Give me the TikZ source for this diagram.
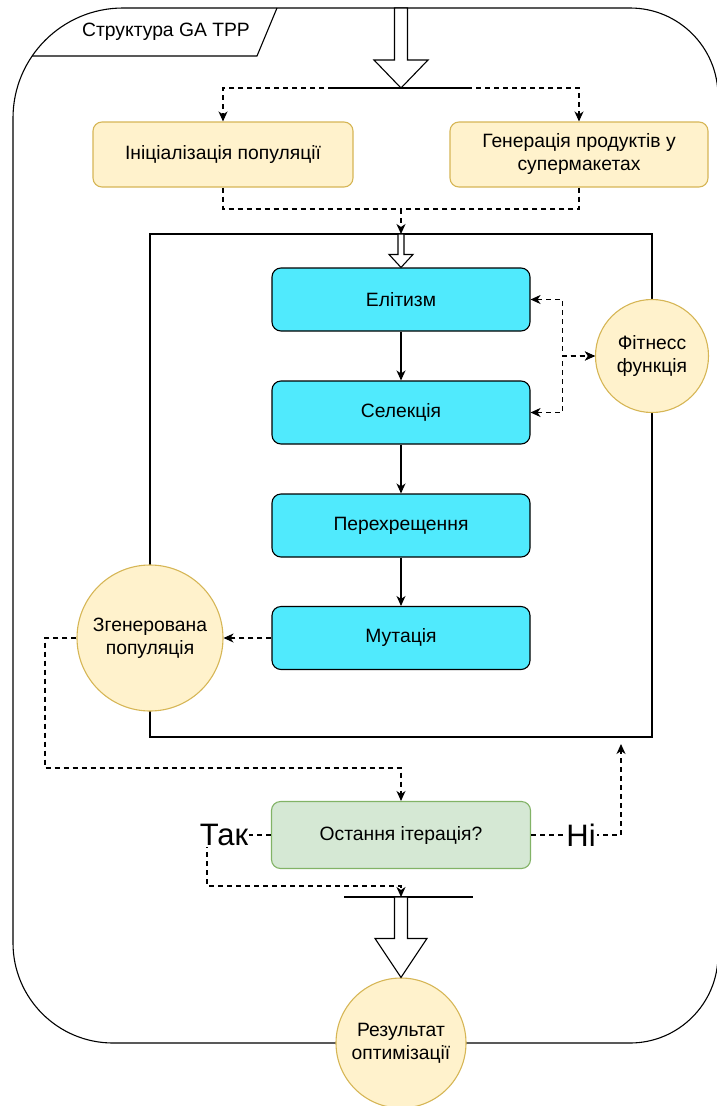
\documentclass[tikz,border=0pt]{standalone}
\usepackage{fontspec}
\setmainfont{Liberation Sans}
\usetikzlibrary{arrows.meta,calc}

\definecolor{yelfill}{HTML}{FFF2CC}
\definecolor{yelline}{HTML}{D6B656}
\definecolor{cyfill}{RGB}{80,234,253}
\definecolor{grfill}{HTML}{D5E8D4}
\definecolor{grline}{HTML}{82B366}

% hollow block arrow from #1 down to #2: half shaft #3, half head #4, head length #5
\newcommand{\blockarr}[5]{%
  \draw[fill=white,line join=miter]
    ($(#1)+(-#3,0)$) -- ($(#2)+(-#3,-#5)$) -- ($(#2)+(-#4,-#5)$) -- (#2)
    -- ($(#2)+(#4,-#5)$) -- ($(#2)+(#3,-#5)$) -- ($(#1)+(#3,0)$) -- cycle;}

\begin{document}
\begin{tikzpicture}[x=1pt,y=-1pt,line width=1.1pt,
  every node/.style={font=\fontsize{19.3}{23}\selectfont,align=center,inner sep=0pt},
  ybox/.style={draw=yelline,fill=yelfill,rounded corners=9pt,minimum width=260pt,minimum height=65pt},
  cbox/.style={draw=black,fill=cyfill,rounded corners=9pt,minimum width=258pt,minimum height=63pt},
  gbox/.style={draw=grline,fill=grfill,rounded corners=9pt,minimum width=259pt,minimum height=67pt},
  ycirc/.style={circle,draw=yelline,fill=yelfill},
  dl/.style={dash pattern=on 5pt off 4pt},
  tip/.style={-{Stealth[length=10pt,width=9pt,inset=3pt]}},
  tips/.style={{Stealth[length=10pt,width=9pt,inset=3pt]}-{Stealth[length=10pt,width=9pt,inset=3pt]}},
  biglabel/.style={fill=white,font=\fontsize{31}{31}\selectfont,inner sep=1pt}]

\useasboundingbox (0,0) rectangle (716,1106);

% outer frame with rounded corners
\draw (13,118) .. controls (13,57.3) and (62.3,8) .. (123,8)
  -- (630,8) .. controls (678.6,8) and (718,47.4) .. (718,96)
  -- (718,955) .. controls (718,1003.6) and (678.6,1043) .. (630,1043)
  -- (113,1043) .. controls (57.8,1043) and (13,998.2) .. (13,943) -- cycle;

% title tab
\draw (32,56) -- (257,56) -- (277,8);
\node (title) at (166,32) {Структура GA TPP};

% loop container
\draw (150,234) rectangle (652,737);

% coordinates of bars and bends
\coordinate (topin) at (401,8);
\coordinate (bar1) at (401,88);
\coordinate (bar1l) at (333,88);
\coordinate (bar1r) at (467,88);
\coordinate (join) at (401,209);
\coordinate (inrtop) at (401,234);
\coordinate (loopc) at (45,768);
\coordinate (takc) at (207,886);
\coordinate (bar2) at (401,897);
\coordinate (bar2l) at (344,897);
\coordinate (bar2r) at (473,897);
\coordinate (nitip) at (621,744);

% nodes
\node[ybox] (init) at (223,154.5) {Ініціалізація популяції};
\node[ybox,minimum width=258pt] (gen) at (579,154.5) {Генерація продуктів у\\супермакетах};
\node[cbox] (elit) at (401,299.5) {Елітизм};
\node[cbox] (sel) at (401,412.5) {Селекція};
\node[cbox] (cross) at (401,525.5) {Перехрещення};
\node[cbox] (mut) at (401,638) {Мутація};
\node[ycirc,minimum size=113pt] (fit) at (652,356) {Фітнесс\\функція};
\node[ycirc,minimum size=146pt] (gpop) at (150,638) {Згенерована\\популяція};
\node[gbox] (last) at (401,835) {Остання ітерація?};
\node[ycirc,minimum size=130pt] (res) at (401,1043) {Результат\\оптимізації};

% block arrows and bars
\blockarr{topin}{bar1}{6.5}{27}{28}
\draw (bar1l) -- (bar1r);
\blockarr{inrtop}{elit.north}{3}{12}{13}
\draw (bar2l) -- (bar2r);
\blockarr{bar2}{res.north}{6.5}{26}{39}

% connectors
\draw[dl,tip] (bar1l) -| (init.north);
\draw[dl,tip] (bar1r) -| (gen.north);
\draw[dl] (init.south) |- (join);
\draw[dl] (gen.south) |- (join);
\draw[dl,tip] (join) -- (inrtop);

\draw[tip] (elit) -- (sel);
\draw[tip] (sel) -- (cross);
\draw[tip] (cross) -- (mut);

\draw[dl,tips] (elit.east) -- ++(32,0) |- (fit.west);
\draw[dl,tips] (sel.east) -- ++(32,0) |- (fit.west);

\draw[dl,tip] (mut.west) -- (gpop.east);
\draw[dl,tip] (gpop.west) -| (loopc) -| (last.north);

\draw[dl,tip] (last.west) -| (takc) -| (bar2);
\draw[dl,tip] (last.east) -| (nitip);
\node[biglabel] (tak) at (224,835) {Так};
\node[biglabel] (ni) at (581,835) {Ні};
\end{tikzpicture}
\end{document}
